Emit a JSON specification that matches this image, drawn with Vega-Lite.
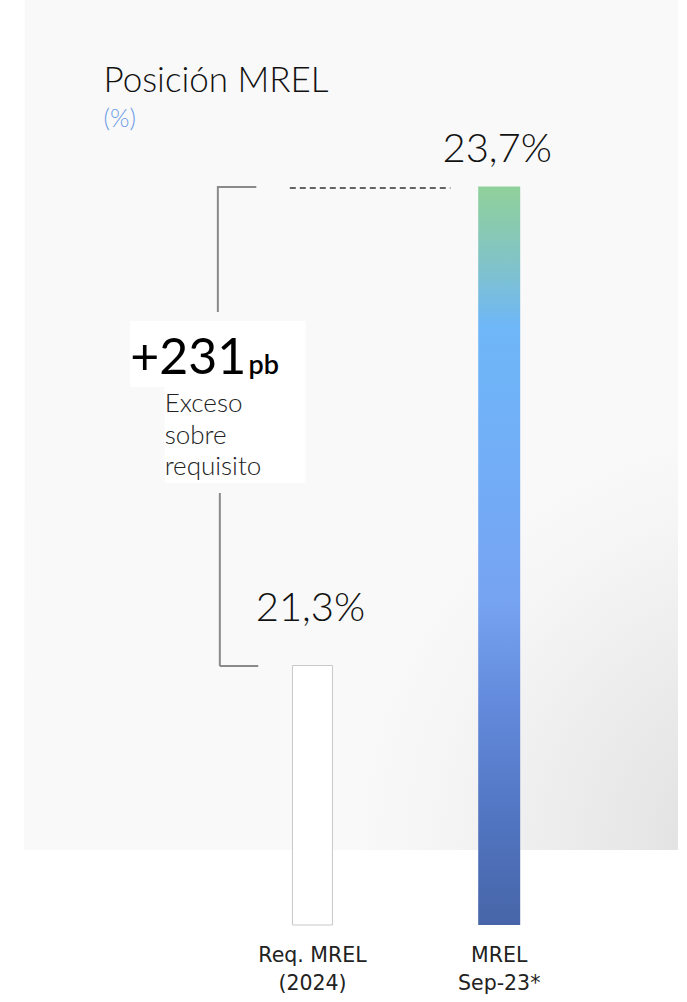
{
  "$schema": "https://vega.github.io/schema/vega-lite/v6.json",
  "width": 687,
  "height": 1002,
  "autosize": {"type": "none"},
  "padding": 0,
  "background": "white",
  "view": {"stroke": null},
  "config": {"text": {"lineBreak": "\n"}},
  "datasets": {
    "bars": [
      {"cat": "Req. MREL\n(2024)", "pos": 1, "value": 21.3, "label": "21,3%"},
      {"cat": "MREL\nSep-23*", "pos": 2, "value": 23.7, "label": "23,7%"}
    ],
    "panel": [{"x1": -0.5409, "x2": 2.95778, "y1": 24.6343, "y2": 20.37575}],
    "boxes": [
      {"x1": 0.02375, "x2": 0.96306, "y1": 23.02605, "y2": 22.69539},
      {"x1": 0.20844, "x2": 0.96306, "y1": 22.69539, "y2": 22.21443}
    ],
    "bracket": [
      {"x1": 0.4934, "x2": 0.4934, "y1": 23.7024, "y2": 23.07114},
      {"x1": 0.4934, "x2": 0.69921, "y1": 23.69739, "y2": 23.69739},
      {"x1": 0.50396, "x2": 0.50396, "y1": 22.16433, "y2": 21.2976},
      {"x1": 0.50396, "x2": 0.70976, "y1": 21.2976, "y2": 21.2976}
    ],
    "dash": [{"x1": 0.87863, "x2": 1.73879, "y1": 23.69238, "y2": 23.69238}],
    "notes": [
      {"x": -0.11873, "y": 24.17335, "text": "Posición MREL", "kind": "title"},
      {"x": -0.11873, "y": 23.998, "text": "(%)", "kind": "unit"},
      {"x": 0.02375, "y": 22.76052, "text": "+231", "kind": "big"},
      {"x": 0.65699, "y": 22.76052, "text": "pb", "kind": "pb"},
      {"x": 0.20844, "y": 22.57014, "text": "Exceso\nsobre\nrequisito", "kind": "desc"}
    ]
  },
  "encoding": {
    "x": {"type": "quantitative", "scale": {"domain": [-0.64644, 2.97889], "nice": false, "zero": false}, "axis": null},
    "y": {"type": "quantitative", "scale": {"domain": [19.6142, 24.6343], "nice": false, "zero": false}, "axis": null}
  },
  "layer": [
    {
      "data": {"name": "panel"},
      "mark": {"type": "rect", "fill": {"gradient": "radial", "x1": 1, "y1": 1, "r1": 0, "x2": 1, "y2": 1, "r2": 0.5, "stops": [
        {"offset": 0, "color": "#d9d9d9"},
        {"offset": 0.3, "color": "#e6e6e6"},
        {"offset": 0.5, "color": "#ececec"},
        {"offset": 0.8, "color": "#f5f5f5"},
        {"offset": 1, "color": "#f9f9f9"}
      ]}},
      "encoding": {"x": {"field": "x1"}, "x2": {"field": "x2"}, "y": {"field": "y1"}, "y2": {"field": "y2"}}
    },
    {
      "data": {"name": "boxes"},
      "mark": {"type": "rect", "fill": "#ffffff"},
      "encoding": {"x": {"field": "x1"}, "x2": {"field": "x2"}, "y": {"field": "y1"}, "y2": {"field": "y2"}}
    },
    {
      "data": {"name": "bracket"},
      "mark": {"type": "rule", "stroke": "#8a8a8a", "strokeWidth": 2},
      "encoding": {"x": {"field": "x1"}, "x2": {"field": "x2"}, "y": {"field": "y1"}, "y2": {"field": "y2"}}
    },
    {
      "data": {"name": "dash"},
      "mark": {"type": "rule", "stroke": "#333333", "strokeWidth": 1.5, "strokeDash": [6, 4]},
      "encoding": {"x": {"field": "x1"}, "x2": {"field": "x2"}, "y": {"field": "y1"}, "y2": {"field": "y2"}}
    },
    {
      "data": {"name": "bars"},
      "transform": [{"filter": "datum.pos === 1"}],
      "mark": {"type": "bar", "orient": "vertical", "width": 40, "fill": "#ffffff", "stroke": "#c8c8c8", "strokeWidth": 1},
      "encoding": {"x": {"field": "pos"}, "y": {"field": "value"}, "y2": {"datum": 20}}
    },
    {
      "data": {"name": "bars"},
      "transform": [{"filter": "datum.pos === 2"}],
      "mark": {"type": "bar", "orient": "vertical", "width": 42, "fill": {"gradient": "linear", "x1": 0, "y1": 0, "x2": 0, "y2": 1, "stops": [
        {"offset": 0, "color": "#90d19a"},
        {"offset": 0.1, "color": "#82c4c6"},
        {"offset": 0.19, "color": "#6eb7f8"},
        {"offset": 0.38, "color": "#72adf6"},
        {"offset": 0.56, "color": "#76a3f2"},
        {"offset": 0.7, "color": "#638adc"},
        {"offset": 0.85, "color": "#5276c2"},
        {"offset": 1, "color": "#4765a8"}
      ]}},
      "encoding": {"x": {"field": "pos"}, "y": {"field": "value"}, "y2": {"datum": 20}}
    },
    {
      "data": {"name": "bars"},
      "transform": [{"filter": "datum.pos === 1"}],
      "mark": {"type": "text", "font": "Lato", "fontWeight": 300, "fontSize": 40, "fill": "#111111", "align": "center", "baseline": "alphabetic", "dy": -45, "dx": -2},
      "encoding": {"x": {"field": "pos"}, "y": {"field": "value"}, "text": {"field": "label", "type": "nominal"}}
    },
    {
      "data": {"name": "bars"},
      "transform": [{"filter": "datum.pos === 2"}],
      "mark": {"type": "text", "font": "Lato", "fontWeight": 300, "fontSize": 40, "fill": "#111111", "align": "center", "baseline": "alphabetic", "dy": -24, "dx": -2},
      "encoding": {"x": {"field": "pos"}, "y": {"field": "value"}, "text": {"field": "label", "type": "nominal"}}
    },
    {
      "data": {"name": "bars"},
      "mark": {"type": "text", "font": "DejaVu Sans", "fontSize": 20.5, "fill": "#222222", "align": "center", "baseline": "alphabetic", "lineHeight": 28},
      "encoding": {"x": {"field": "pos"}, "y": {"datum": 19.81463}, "text": {"field": "cat", "type": "nominal"}}
    },
    {
      "data": {"name": "notes"},
      "transform": [{"filter": "datum.kind === 'title'"}],
      "mark": {"type": "text", "font": "Lato", "fontWeight": 300, "fontSize": 35, "fill": "#111111", "align": "left", "baseline": "alphabetic"},
      "encoding": {"x": {"field": "x"}, "y": {"field": "y"}, "text": {"field": "text", "type": "nominal"}}
    },
    {
      "data": {"name": "notes"},
      "transform": [{"filter": "datum.kind === 'unit'"}],
      "mark": {"type": "text", "font": "Lato", "fontWeight": 300, "fontSize": 25, "fill": "#6d9ce8", "align": "left", "baseline": "alphabetic"},
      "encoding": {"x": {"field": "x"}, "y": {"field": "y"}, "text": {"field": "text", "type": "nominal"}}
    },
    {
      "data": {"name": "notes"},
      "transform": [{"filter": "datum.kind === 'big'"}],
      "mark": {"type": "text", "font": "Lato", "fontWeight": 400, "fontSize": 50, "fill": "#000000", "align": "left", "baseline": "alphabetic"},
      "encoding": {"x": {"field": "x"}, "y": {"field": "y"}, "text": {"field": "text", "type": "nominal"}}
    },
    {
      "data": {"name": "notes"},
      "transform": [{"filter": "datum.kind === 'pb'"}],
      "mark": {"type": "text", "font": "Lato", "fontWeight": 600, "fontSize": 27, "fill": "#000000", "align": "left", "baseline": "alphabetic"},
      "encoding": {"x": {"field": "x"}, "y": {"field": "y"}, "text": {"field": "text", "type": "nominal"}}
    },
    {
      "data": {"name": "notes"},
      "transform": [{"filter": "datum.kind === 'desc'"}],
      "mark": {"type": "text", "font": "Lato", "fontWeight": 300, "fontSize": 26, "fill": "#222222", "align": "left", "baseline": "alphabetic", "lineHeight": 31.5},
      "encoding": {"x": {"field": "x"}, "y": {"field": "y"}, "text": {"field": "text", "type": "nominal"}}
    }
  ]
}
